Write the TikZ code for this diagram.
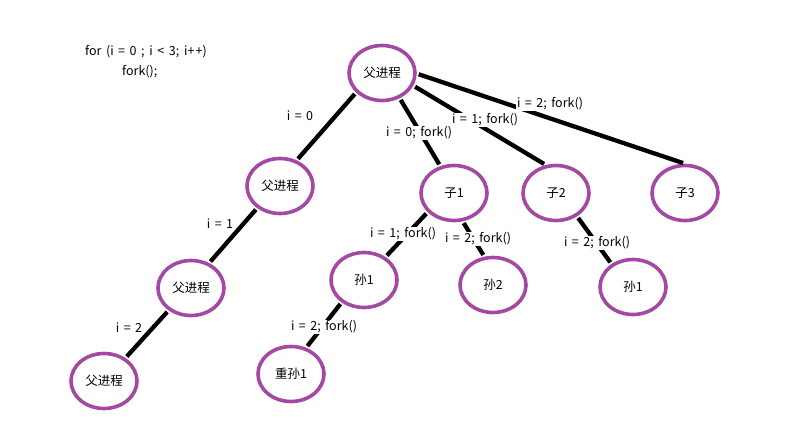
\documentclass[tikz,border=0pt]{standalone}
\usepackage{fontspec}
\setmainfont[WordSpace={1.6,0,0}]{Noto Sans CJK SC}
\definecolor{paintpurple}{RGB}{163,73,164}
\tikzset{
  proc/.style={ellipse, draw=paintpurple, line width=3.6pt, minimum width=66pt, minimum height=55pt, inner sep=0pt, font=\fontsize{12.5}{14}\selectfont},
  edge/.style={line width=4.3pt, black, shorten >=2pt, shorten <=2pt},
  lbl/.style={fill=white, inner sep=1pt, font=\fontsize{12.5}{14}\selectfont},
  code/.style={anchor=west, inner sep=0pt, font=\fontsize{12.5}{14}\selectfont}
}
\usetikzlibrary{shapes.geometric}
\begin{document}
\begin{tikzpicture}[x=1pt,y=-1pt]
\useasboundingbox (0,0) rectangle (798,442);
% code
\node[code] (c1) at (85,52) {for (i = 0 ;\kern5pt i < 3;\kern5pt i+\kern1pt+)};
\node[code] (c2) at (122,72) {fork();};
% nodes
\node[proc] (root) at (382,73) {父进程};
\node[proc] (p1) at (280,186) {父进程};
\node[proc] (p2) at (191,288) {父进程};
\node[proc] (p3) at (104,381) {父进程};
\node[proc] (z1) at (454,193) {子1};
\node[proc] (z2) at (556,193) {子2};
\node[proc] (z3) at (685,193) {子3};
\node[proc] (s1) at (364,280) {孙1};
\node[proc] (s2) at (493,285) {孙2};
\node[proc] (s3) at (633,287) {孙1};
\node[proc] (cs1) at (291,374) {重孙1};
% edges
\draw[edge] (root.217) -- (p1.57);
\draw[edge] (p1.224) -- (p2.54);
\draw[edge] (p2.225) -- (p3.47);
\draw[edge] (root.-55) -- (z1.117);
\draw[edge] (root.-22) -- (z2.110);
\draw[edge] (root.-1) -- (z3.north);
\draw[edge] (z1.216) -- (s1.47);
\draw[edge] (s1.225) -- (cs1.60);
\draw[edge] (z1.-73) -- (s2.107);
\draw[edge] (z2.-48) -- (s3.133);
% labels
\node[lbl] (l1) at (300,116) {i = 0};
\node[lbl] (l2) at (220,224) {i = 1};
\node[lbl] (l3) at (129,328) {i = 2};
\node[lbl] (l4) at (419,133) {i = 0; fork()};
\node[lbl] (l5) at (485,120) {i = 1; fork()};
\node[lbl] (l6) at (550,104) {i = 2; fork()};
\node[lbl] (l7) at (403,234) {i = 1; fork()};
\node[lbl] (l8) at (478,239) {i = 2; fork()};
\node[lbl] (l9) at (597,243) {i = 2; fork()};
\node[lbl] (l10) at (324,327) {i = 2; fork()};
\end{tikzpicture}
\end{document}
